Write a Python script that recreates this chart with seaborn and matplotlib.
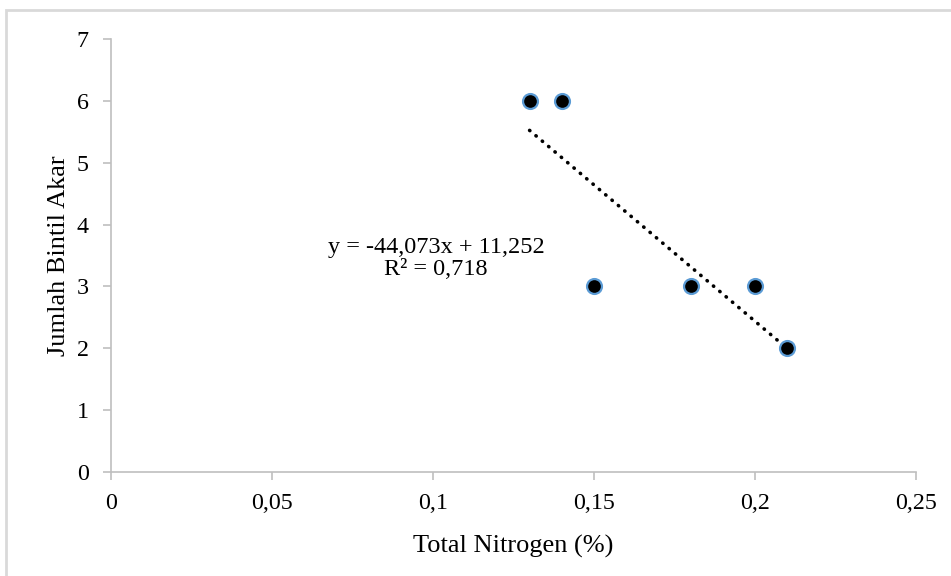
import matplotlib
matplotlib.use("Agg")
import matplotlib.pyplot as plt
import seaborn as sns
import numpy as np
import pandas as pd
from matplotlib.patches import Rectangle

# Data
total_nitrogen = [0.13, 0.14, 0.15, 0.18, 0.20, 0.21]
jumlah_bintil = [6, 6, 3, 3, 3, 2]
slope = -44.073
intercept = 11.252
r2 = 0.718
x_ticks = [0, 0.05, 0.1, 0.15, 0.2, 0.25]
x_tick_labels = ["0", "0,05", "0,1", "0,15", "0,2", "0,25"]
y_ticks = [0, 1, 2, 3, 4, 5, 6, 7]

sns.set_theme(style="white")
plt.rcParams['font.family'] = ['Liberation Serif', 'DejaVu Serif']

fig = plt.figure(figsize=(9.51, 5.76), dpi=100)
ax = fig.add_axes([111/951, 1-472/576, (916-111)/951, (472-39)/576])

df = pd.DataFrame({"x": total_nitrogen, "y": jumlah_bintil})

# trendline
xt = np.array([min(total_nitrogen), max(total_nitrogen)])
trend = pd.DataFrame({"x": xt, "y": slope * xt + intercept})
sns.lineplot(data=trend, x="x", y="y", ax=ax, color="black", linewidth=2.6,
             linestyle=(0, (0.1, 2.2)), dash_capstyle="round", zorder=2)

sns.scatterplot(data=df, x="x", y="y", ax=ax, s=115, color="black",
                edgecolor="#5B9BD5", linewidth=1.6, zorder=3)

ax.set_xlim(0, 0.25)
ax.set_ylim(0, 7)
ax.set_xticks(x_ticks)
ax.set_xticklabels(x_tick_labels)
ax.set_yticks(y_ticks)
ax.set_yticklabels([str(v) for v in y_ticks])

for s in ["top", "right"]:
    ax.spines[s].set_visible(False)
for s in ["left", "bottom"]:
    ax.spines[s].set_color("#BFBFBF")
    ax.spines[s].set_linewidth(1.2)
ax.tick_params(axis="both", which="major", direction="out", length=6, width=1.2,
               color="#BFBFBF", labelsize=17.3, labelcolor="black",
               bottom=True, left=True)
ax.tick_params(axis="x", pad=9)
ax.tick_params(axis="y", pad=10)

ax.set_xlabel("Total Nitrogen (%)", fontsize=19, color="black", labelpad=15)
ax.set_ylabel("Jumlah Bintil Akar", fontsize=19, color="black", labelpad=5)

eq = f"y = {slope:.3f}x + {intercept:.3f}".replace(".", ",")
r2txt = f"R² = {r2:.3f}".replace(".", ",")
ax.text(0.1009, 3.45, eq + "\n" + r2txt, ha="center", va="center",
        fontsize=17.5, color="black", linespacing=1.1)

# outer border (top and left visible)
fig.patches.append(Rectangle((6/951, -0.1), 1.2, 1 - 9.5/576 + 0.1,
                             transform=fig.transFigure, fill=False,
                             edgecolor="#D9D9D9", linewidth=2, zorder=0))

fig.savefig("out.png", dpi=100)
